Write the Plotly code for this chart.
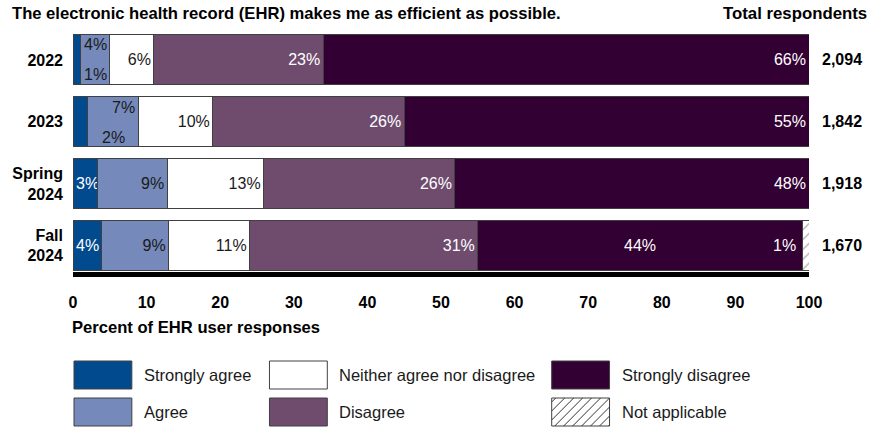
import plotly.graph_objects as go

# ---------------- data ----------------
categories = ["2022", "2023", "Spring 2024", "Fall 2024"]
category_ticktext = ["2022", "2023", "Spring<br>2024", "Fall<br>2024"]
totals = ["2,094", "1,842", "1,918", "1,670"]

strongly_agree = [1.0, 2.0, 3.3, 3.9]
agree = [4.0, 6.9, 9.5, 9.1]
neither = [6.0, 10.1, 13.1, 11.0]
disagree = [23.0, 26.0, 26.0, 31.0]
strongly_disagree = [66.0, 55.0, 48.1, 44.1]
not_applicable = [0.0, 0.0, 0.0, 0.9]

# published (rounded) labels
lab_strongly_agree = ["1%", "2%", "3%", "4%"]
lab_agree = ["4%", "7%", "9%", "9%"]
lab_neither = ["6%", "10%", "13%", "11%"]
lab_disagree = ["23%", "26%", "26%", "31%"]
lab_strongly_disagree = ["66%", "55%", "48%", "44%"]
lab_not_applicable = ["", "", "", "1%"]

x_ticks = [0, 10, 20, 30, 40, 50, 60, 70, 80, 90, 100]

title_text = "The electronic health record (EHR) makes me as efficient as possible."
totals_header = "Total respondents"
x_title = "Percent of EHR user responses"

series_names = ["Strongly agree", "Agree", "Neither agree nor disagree",
                "Disagree", "Strongly disagree", "Not applicable"]
colors = ["#024a8e", "#7589bb", "#ffffff", "#6f4c6e", "#330033", "#ffffff"]

# ---------------- layout geometry ----------------
W, H = 869, 428
L, R, T, B = 71, 60, 29, 156
PW = W - L - R
PH = H - T - B
FONT = "Liberation Sans, Arial, sans-serif"
DARK = "#1a1a1a"
OUTLINE = "#404040"


def px2x(px):
    return (px - L) / PW


def px2y(py):
    return (H - B - py) / PH


fig = go.Figure()


def add_bar(vals, name, color, text, textcolor, anchor, pattern=None):
    marker = dict(color=color, line=dict(color=OUTLINE, width=1))
    if pattern:
        marker["pattern"] = pattern
    fig.add_trace(go.Bar(
        y=categories, x=vals, name=name, orientation="h",
        marker=marker, text=text, textposition="inside",
        insidetextanchor=anchor, textangle=0, constraintext="none",
        insidetextfont=dict(family=FONT, size=16, color=textcolor),
        hoverinfo="skip", showlegend=False,
    ))


# text shown directly as bar text (others via annotations below)
t_sa = ["", "", lab_strongly_agree[2], lab_strongly_agree[3]]
t_ag = ["", "", lab_agree[2], lab_agree[3]]
t_sd = lab_strongly_disagree[:3] + [""]

add_bar(strongly_agree, series_names[0], colors[0], t_sa, "white", "start")
add_bar(agree, series_names[1], colors[1], t_ag, DARK, "end")
add_bar(neither, series_names[2], colors[2], lab_neither, DARK, "end")
add_bar(disagree, series_names[3], colors[3], lab_disagree, "white", "end")
add_bar(strongly_disagree, series_names[4], colors[4], t_sd, "white", "end")
add_bar(not_applicable, series_names[5], colors[5], ["", "", "", ""], DARK, "end",
        pattern=dict(shape="/", fgcolor="#333333", bgcolor="white", size=7, solidity=0.15))

annotations = []
LABFONT = dict(color=DARK, size=16, family=FONT)
# small-segment labels for 2022 / 2023 (placed in the Agree segment); y = category index
for i in [0, 1]:
    a0 = strongly_agree[i]
    a1 = a0 + agree[i]
    mid = (a0 + a1) / 2
    if i == 0:
        annotations.append(dict(x=mid, y=i, text=lab_agree[i], yshift=15,
                                showarrow=False, font=LABFONT))
        annotations.append(dict(x=mid, y=i, text=lab_strongly_agree[i], yshift=-15,
                                showarrow=False, font=LABFONT))
    else:
        annotations.append(dict(x=a1, y=i, text=lab_agree[i], yshift=14,
                                xanchor="right", xshift=-2,
                                showarrow=False, font=LABFONT))
        annotations.append(dict(x=mid, y=i, text=lab_strongly_agree[i], yshift=-16,
                                showarrow=False, font=LABFONT))

# Fall 2024: centered strongly-disagree label and the N/A label
i = 3
sd_start = strongly_agree[i] + agree[i] + neither[i] + disagree[i]
sd_end = sd_start + strongly_disagree[i]
annotations.append(dict(x=(sd_start + sd_end) / 2, y=i, text=lab_strongly_disagree[i],
                        showarrow=False, font=dict(color="white", size=16, family=FONT)))
annotations.append(dict(x=sd_end, y=i, text=lab_not_applicable[i], xanchor="right",
                        xshift=-4, showarrow=False, font=dict(color="white", size=16, family=FONT)))

# totals column
for k, tot in enumerate(totals):
    annotations.append(dict(xref="paper", x=px2x(842), y=k, text=tot, xanchor="center",
                            showarrow=False, font=dict(color="black", size=16, family=FONT, weight="bold")))

# title, header and axis title
annotations.append(dict(xref="paper", yref="paper", x=px2x(8), y=px2y(14), text=title_text,
                        xanchor="left", yanchor="middle", showarrow=False,
                        font=dict(color="black", size=16.6, family=FONT, weight="bold")))
annotations.append(dict(xref="paper", yref="paper", x=px2x(869), y=px2y(14), text=totals_header,
                        xanchor="right", yanchor="middle", showarrow=False,
                        font=dict(color="black", size=16.8, family=FONT, weight="bold")))
annotations.append(dict(xref="paper", yref="paper", x=px2x(68), y=px2y(327), text=x_title,
                        xanchor="left", yanchor="middle", showarrow=False,
                        font=dict(color="black", size=16.6, family=FONT, weight="bold")))

# ---------------- manual legend ----------------
shapes = []
col_x = [72, 268, 551]
row_y = [361, 398]
sw_w, sw_h = 58, 28
for k, (nm, col) in enumerate(zip(series_names, colors)):
    c, r = k // 2, k % 2
    x0, y0 = col_x[c], row_y[r]
    x1, y1 = x0 + sw_w, y0 + sw_h
    shapes.append(dict(type="rect", xref="paper", yref="paper",
                       x0=px2x(x0), x1=px2x(x1), y0=px2y(y1), y1=px2y(y0),
                       fillcolor=col, line=dict(color=OUTLINE, width=1), layer="above"))
    if nm == "Not applicable":
        step = 9
        cc = x0 + y0 + 4
        while cc < x1 + y1:
            pts = []
            for xx in (x0, x1):
                yy = cc - xx
                if y0 <= yy <= y1:
                    pts.append((xx, yy))
            for yy in (y0, y1):
                xx = cc - yy
                if x0 <= xx <= x1:
                    pts.append((xx, yy))
            if len(pts) >= 2:
                (ax, ay), (bx, by) = pts[0], pts[-1]
                shapes.append(dict(type="line", xref="paper", yref="paper",
                                   x0=px2x(ax), y0=px2y(ay), x1=px2x(bx), y1=px2y(by),
                                   line=dict(color="#333333", width=1), layer="above"))
            cc += step
    annotations.append(dict(xref="paper", yref="paper", x=px2x(x0 + 68), y=px2y((y0 + y1) / 2),
                            text=nm, xanchor="left", yanchor="middle", showarrow=False,
                            font=dict(color=DARK, size=16.5, family=FONT)))

fig.update_layout(
    width=W, height=H, barmode="stack", bargap=0.19,
    margin=dict(l=L, r=R, t=T, b=B, pad=0),
    plot_bgcolor="white", paper_bgcolor="white",
    font=dict(family=FONT, color="black"),
    xaxis=dict(range=[0, 100], tickvals=x_ticks, showgrid=False, zeroline=False,
               showline=True, linewidth=5, linecolor="black", ticks="",
               ticklabelstandoff=12,
               tickfont=dict(size=16, family=FONT, color="black", weight="bold"),
               fixedrange=True),
    yaxis=dict(type="category", categoryorder="array", categoryarray=categories,
               range=[3.43, -0.5],
               tickvals=categories, ticktext=category_ticktext, showgrid=False,
               zeroline=False, showline=False, ticks="", ticklabelstandoff=9,
               tickfont=dict(size=16, family=FONT, color="black", weight="bold"),
               fixedrange=True),
    annotations=annotations, shapes=shapes, showlegend=False,
)

fig.write_html("out.html")
